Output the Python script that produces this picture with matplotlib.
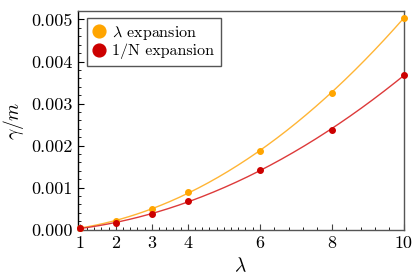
import numpy as np
import matplotlib
matplotlib.use("Agg")
import matplotlib.pyplot as plt
from matplotlib.ticker import FixedLocator, MultipleLocator

# data
lam = [1, 2, 3, 4, 6, 8, 10]
gamma_lam = [0.00004, 0.00021, 0.00048, 0.00090, 0.00187, 0.00326, 0.00504]
gamma_1n = [0.00003, 0.00016, 0.00037, 0.00068, 0.00142, 0.00237, 0.00368]
xticks = [1, 2, 3, 4, 6, 8, 10]
yticks = [0.0, 0.001, 0.002, 0.003, 0.004, 0.005]

plt.rcParams['font.family'] = 'serif'
plt.rcParams['font.serif'] = ['cmr10', 'DejaVu Serif']
plt.rcParams['mathtext.fontset'] = 'cm'
plt.rcParams['axes.unicode_minus'] = False

fig = plt.figure(figsize=(4.15, 2.77), dpi=100)
ax = fig.add_axes([0.187, 0.168, 0.786, 0.792])

# quadratic fits through each data set (drawn as the lines)
xs = np.linspace(1, 10, 200)
p_lam = np.polyfit(lam, gamma_lam, 2)
p_1n = np.polyfit(lam, gamma_1n, 2)
ax.plot(xs, np.polyval(p_lam, xs), color='#FFB535', lw=1.0, zorder=2)
ax.plot(xs, np.polyval(p_1n, xs), color='#DD3A3A', lw=1.0, zorder=2)

ax.plot(lam, gamma_lam, 'o', color='#FFA500', ms=4, zorder=3, clip_on=False,
        label=r'$\lambda$ expansion')
ax.plot(lam, gamma_1n, 'o', color='#CC0000', ms=4, zorder=3, clip_on=False,
        label='1/N expansion')

ax.set_xlim(0.94, 10.0)
ax.set_ylim(-0.00002, 0.0052)
ax.set_xticks(xticks)
ax.set_yticks(yticks)
ax.set_yticklabels(['%.3f' % y for y in yticks])
minor_x = list(np.arange(1, 6, 0.2)) + list(np.arange(6, 10, 0.4))
ax.xaxis.set_minor_locator(FixedLocator(minor_x))
ax.yaxis.set_minor_locator(MultipleLocator(0.0002))
ax.tick_params(which='both', direction='in', top=False, right=False,
               labelsize=13, colors='black')
ax.tick_params(which='major', length=4, width=0.8)
ax.tick_params(which='minor', length=2, width=0.6)
ax.tick_params(axis='x', colors='#444444', labelcolor='black')

for side in ['top', 'right', 'bottom']:
    ax.spines[side].set_color('#555555')
ax.spines['left'].set_color('black')
for s in ax.spines.values():
    s.set_linewidth(1.0)

ax.set_xlabel(r'$\lambda$', fontsize=14, labelpad=4)
ax.set_ylabel(r'$\gamma/m$', fontsize=14, labelpad=4)

leg = ax.legend(loc='upper left', bbox_to_anchor=(0.03, 0.97), borderaxespad=0,
                fontsize=11.5, markerscale=2.3, handlelength=0.6,
                handletextpad=0.55, borderpad=0.4, labelspacing=0.12,
                fancybox=False, framealpha=1, edgecolor='#555555')
leg.get_frame().set_linewidth(1.0)

fig.savefig('out.png', dpi=100)
